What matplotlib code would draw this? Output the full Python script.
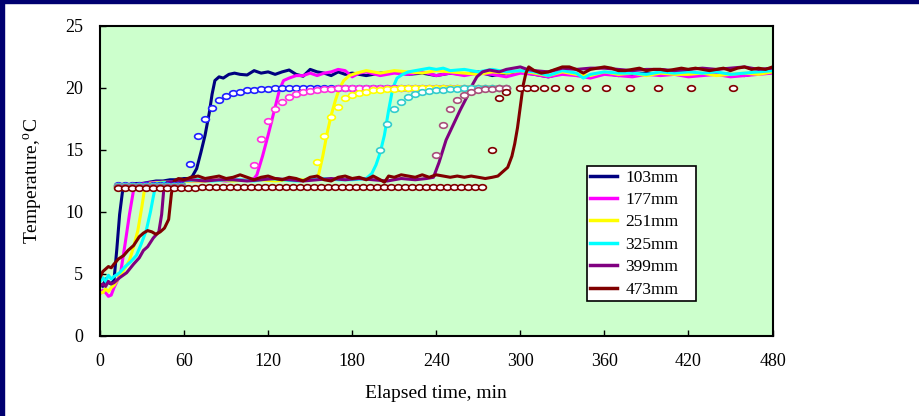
import matplotlib
matplotlib.use("Agg")
import matplotlib.pyplot as plt
from matplotlib.patches import Rectangle
from matplotlib.path import Path

plt.rcParams['font.family'] = ['Liberation Serif', 'DejaVu Serif']
plt.rcParams['mathtext.fontset'] = 'custom'
plt.rcParams['mathtext.rm'] = 'Liberation Serif'

# measured temperatures (lines)
navy_t = [0, 2, 4, 6, 8, 10, 12, 14, 16, 18, 22, 26, 30, 35, 40, 45, 50, 55, 60, 64,
          66, 69, 72, 75, 78, 80, 82, 85, 88, 92, 96, 100, 105, 110, 115, 120, 125, 130, 135, 140,
          145, 150, 155, 160, 165, 170, 175, 180, 190, 200, 210, 220, 230, 240, 250, 260, 270, 280, 290, 300,
          310, 320, 330, 340, 350, 360, 370, 380, 390, 400, 410, 420, 430, 440, 450, 460, 470, 480]
navy_y = [4.2, 4.0, 4.6, 4.3, 4.2, 4.5, 7.0, 9.8, 11.6, 12.0, 12.2, 12.3, 12.3, 12.4, 12.5, 12.5, 12.6, 12.6, 12.7, 12.7,
          12.9, 13.5, 14.8, 16.2, 18.0, 19.5, 20.6, 20.9, 20.8, 21.1, 21.2, 21.1, 21.05, 21.4, 21.2, 21.3, 21.1, 21.3, 21.45, 21.1,
          20.95, 21.5, 21.3, 21.2, 21.0, 21.3, 21.1, 21.2, 21.0, 21.2, 21.3, 21.1, 21.2, 21.0, 21.2, 21.1, 21.3, 21.0, 21.2, 21.3,
          21.1, 20.9, 21.2, 21.1, 20.9, 21.2, 21.0, 21.1, 21.2, 21.1, 21.2, 21.0, 21.1, 21.2, 21.1, 21.0, 21.2, 21.3]

mag_t = [0, 2, 4, 6, 8, 10, 13, 15, 18, 21, 24, 27, 32, 40, 50, 60, 70, 80, 90, 100,
         108, 110, 112, 116, 120, 124, 128, 131, 135, 140, 145, 150, 155, 160, 165, 170, 175, 180, 185, 190,
         200, 210, 220, 230, 240, 250, 260, 270, 280, 290, 300, 310, 320, 330, 340, 350, 360, 370, 380, 390,
         400, 410, 420, 430, 440, 450, 460, 470, 480]
mag_y = [3.4, 3.7, 3.5, 3.2, 3.3, 3.9, 4.6, 5.3, 7.5, 9.8, 11.8, 12.2, 12.3, 12.4, 12.4, 12.5, 12.5, 12.6, 12.5, 12.6,
         12.6, 12.7, 13.0, 14.5, 16.2, 18.0, 19.8, 20.6, 20.8, 21.0, 21.0, 21.2, 21.0, 21.2, 21.3, 21.5, 21.4, 20.9, 21.2, 21.3,
         21.0, 21.2, 21.1, 21.3, 21.0, 21.2, 21.0, 21.2, 21.1, 20.9, 21.2, 21.1, 20.9, 21.1, 21.0, 20.8, 21.1, 21.0, 20.9, 21.1,
         21.0, 21.1, 20.9, 21.0, 21.1, 20.9, 21.0, 21.1, 21.2]

yel_t = [0, 2, 4, 6, 8, 10, 14, 18, 21, 24, 27, 30, 32, 35, 45, 55, 65, 75, 85, 95,
         105, 115, 125, 135, 145, 153, 156, 159, 162, 165, 168, 171, 174, 178, 183, 190, 195, 200,
         210, 220, 230, 240, 250, 260, 270, 280, 290, 300, 310, 320, 330, 340, 350, 360, 370, 380,
         390, 400, 410, 420, 430, 440, 450, 460, 470, 480]
yel_y = [3.5, 3.5, 3.8, 3.6, 3.9, 4.1, 4.8, 5.5, 6.1, 7.2, 8.5, 10.5, 12.0, 12.3, 12.4, 12.4, 12.5, 12.5, 12.6, 12.5,
         12.6, 12.6, 12.5, 12.6, 12.6, 12.7, 13.0, 14.5, 16.3, 17.8, 19.0, 20.0, 20.6, 21.0, 21.2, 21.4, 21.3, 21.2,
         21.4, 21.3, 21.2, 21.4, 21.3, 21.2, 21.1, 21.3, 21.2, 21.4, 21.2, 21.0, 21.3, 21.1, 21.0, 21.3, 21.1, 21.2,
         21.0, 21.2, 21.1, 21.1, 21.2, 21.0, 21.1, 21.2, 21.1, 21.3]

cyn_t = [0, 2, 4, 6, 8, 10, 14, 18, 22, 26, 29, 33, 36, 38, 40, 50, 60, 70, 80, 90,
         100, 110, 120, 130, 140, 150, 160, 170, 180, 190, 194, 197, 200, 203, 206, 209, 212, 216, 220, 225,
         230, 235, 240, 245, 250, 260, 270, 280, 290, 300, 310, 320, 330, 340, 345, 350, 360, 370, 380, 390,
         400, 410, 420, 430, 440, 450, 460, 470, 480]
cyn_y = [4.4, 4.7, 4.4, 4.9, 4.6, 4.8, 5.1, 5.6, 6.0, 6.5, 7.3, 8.5, 10.0, 11.2, 12.3, 12.4, 12.5, 12.6, 12.5, 12.6,
         12.6, 12.5, 12.7, 12.6, 12.5, 12.6, 12.7, 12.6, 12.6, 12.7, 13.1, 13.8, 14.8, 16.2, 18.2, 20.0, 20.8, 21.1, 21.3, 21.4,
         21.5, 21.6, 21.5, 21.6, 21.4, 21.5, 21.3, 21.5, 21.3, 21.4, 21.3, 21.0, 21.4, 21.2, 20.8, 21.1, 21.3, 21.2, 21.2, 21.1,
         21.3, 21.2, 21.3, 21.2, 21.3, 21.1, 21.2, 21.3, 21.4]

pur_t = [0, 2, 4, 6, 8, 10, 14, 19, 24, 28, 31, 34, 38, 42, 44, 45.5, 48, 55, 65, 75,
         85, 95, 105, 115, 125, 135, 145, 155, 165, 175, 185, 195, 205, 215, 225, 233, 238, 242, 247, 252,
         257, 262, 266, 269, 273, 278, 285, 290, 295, 300, 305, 310, 320, 330, 340, 350, 360, 370, 380, 390,
         400, 410, 420, 430, 440, 450, 460, 470, 480]
pur_y = [4.0, 4.2, 4.0, 4.4, 4.2, 4.3, 4.7, 5.1, 5.8, 6.3, 6.9, 7.2, 7.9, 8.4, 9.8, 11.8, 12.4, 12.5, 12.6, 12.5,
         12.6, 12.6, 12.5, 12.6, 12.7, 12.6, 12.5, 12.6, 12.7, 12.6, 12.7, 12.6, 12.5, 12.7, 12.6, 12.7, 12.8, 14.0, 15.8, 17.0,
         18.2, 19.3, 20.3, 20.9, 21.3, 21.45, 21.3, 21.5, 21.6, 21.7, 21.5, 21.4, 21.3, 21.6, 21.5, 21.6, 21.6, 21.5, 21.4, 21.5,
         21.5, 21.4, 21.5, 21.6, 21.5, 21.6, 21.7, 21.5, 21.6]

mar_t = [0, 2, 4, 6, 8, 10, 13, 17, 20, 24, 28, 31, 34, 37, 40, 43, 46, 49, 51, 53,
         56, 60, 65, 70, 75, 80, 85, 90, 95, 100, 105, 110, 115, 120, 125, 130, 135, 140, 145, 150,
         155, 160, 165, 170, 175, 180, 185, 190, 195, 200, 203, 206, 210, 215, 220, 225, 230, 235, 240, 245,
         250, 255, 260, 265, 270, 275, 280, 284, 288, 291, 294, 296, 298, 300, 302, 304, 306,
         310, 315, 320, 325, 330, 335, 340, 345, 350, 355, 360, 365, 370, 375, 380, 385, 390, 395, 400, 405,
         410, 415, 420, 425, 430, 435, 440, 445, 450, 455, 460, 465, 470, 475, 480]
mar_y = [4.7, 5.2, 5.4, 5.6, 5.5, 5.8, 6.2, 6.5, 6.9, 7.3, 8.0, 8.3, 8.5, 8.4, 8.2, 8.4, 8.7, 9.4, 11.5, 12.5,
         12.7, 12.6, 12.8, 12.9, 12.7, 12.8, 12.9, 12.7, 12.8, 13.0, 12.8, 12.6, 12.8, 12.9, 12.7, 12.6, 12.8, 12.7, 12.5, 12.8,
         12.9, 12.6, 12.5, 12.8, 12.9, 12.7, 12.8, 12.6, 12.9, 12.6, 12.4, 12.9, 12.8, 13.0, 12.9, 12.8, 13.0, 12.8, 13.0, 12.9,
         12.8, 12.9, 12.8, 12.9, 12.8, 12.7, 12.8, 12.9, 13.3, 13.6, 14.5, 15.5, 16.8, 18.5, 20.2, 21.2, 21.7,
         21.4, 21.2, 21.3, 21.5, 21.7, 21.7, 21.5, 21.2, 21.5, 21.6, 21.7, 21.6, 21.4, 21.4, 21.5, 21.6, 21.4, 21.5, 21.5, 21.4,
         21.5, 21.6, 21.5, 21.6, 21.5, 21.4, 21.5, 21.6, 21.4, 21.6, 21.7, 21.5, 21.6, 21.5, 21.7]

# calculated temperatures (circles)
bc_t = [13, 18, 23, 28, 33, 38, 43, 48, 53, 58, 64, 70, 75, 80, 85, 90, 95, 100, 105, 110,
        115, 120, 125, 130, 135, 140, 145, 150, 155, 160, 165, 170, 175, 180, 185, 190, 195, 200, 205, 210,
        215, 220, 225, 230, 235, 240, 245, 250, 255, 260, 265, 270, 275, 280, 285, 290]
bc_y = [12.15, 12.15, 12.15, 12.15, 12.15, 12.15, 12.15, 12.15, 12.15, 12.15, 13.9, 16.1, 17.5, 18.4, 19.0, 19.35, 19.6, 19.7, 19.8, 19.85,
        19.9, 19.95, 20.0, 20.0, 20.0, 20.0, 20.0, 20.0, 20.0, 20.0, 20.0, 20.0, 20.0, 20.0, 20.0, 20.0, 20.0, 20.0, 20.0, 20.0,
        20.0, 20.0, 20.0, 20.0, 20.0, 20.0, 20.0, 20.0, 20.0, 20.0, 20.0, 20.0, 20.0, 20.0, 20.0, 20.0]

mc_t = [13, 18, 23, 28, 33, 38, 43, 48, 53, 58, 110, 115, 120, 125, 130, 135, 140, 145, 150, 155,
        160, 165, 170, 175, 180, 185, 190, 195, 200, 205, 210, 215, 220, 225, 230, 235, 240, 245, 250, 255,
        260, 265, 270, 275, 280, 285, 290]
mc_y = [12.1, 12.1, 12.1, 12.1, 12.1, 12.1, 12.1, 12.1, 12.1, 12.1, 13.8, 15.9, 17.3, 18.3, 18.9, 19.3, 19.5, 19.65, 19.75, 19.85,
        19.9, 19.95, 20.0, 20.0, 20.0, 20.0, 20.0, 20.0, 20.0, 20.0, 20.0, 20.0, 20.0, 20.0, 20.0, 20.0, 20.0, 20.0, 20.0, 20.0,
        20.0, 20.0, 20.0, 20.0, 20.0, 20.0, 20.0]

yc_t = [13, 18, 23, 28, 33, 38, 43, 48, 53, 58, 155, 160, 165, 170, 175, 180, 185, 190, 195, 200,
        205, 210, 215, 220, 225, 230, 235, 240, 245, 250, 255, 260, 265, 270, 275, 280, 285, 290]
yc_y = [12.1, 12.1, 12.1, 12.1, 12.1, 12.1, 12.1, 12.1, 12.1, 12.1, 14.0, 16.1, 17.7, 18.5, 19.2, 19.4, 19.6, 19.7, 19.8, 19.85,
        19.9, 19.95, 20.0, 20.0, 20.0, 20.0, 20.0, 20.0, 20.0, 20.0, 20.0, 20.0, 20.0, 20.0, 20.0, 20.0, 20.0, 20.0]

cc_t = [13, 18, 23, 28, 33, 38, 43, 48, 53, 58, 200, 205, 210, 215, 220, 225, 230, 235, 240, 245,
        250, 255, 260, 265, 270, 275, 280, 285, 290]
cc_y = [12.1, 12.1, 12.1, 12.1, 12.1, 12.1, 12.1, 12.1, 12.1, 12.1, 15.0, 17.1, 18.3, 18.9, 19.3, 19.5, 19.65, 19.75, 19.8, 19.85,
        19.9, 19.95, 20.0, 20.0, 20.0, 20.0, 20.0, 20.0, 20.0]

pc_t = [13, 18, 23, 28, 33, 38, 43, 48, 53, 58, 240, 245, 250, 255, 260, 265, 270, 275, 280, 285, 290]
pc_y = [12.05, 12.05, 12.05, 12.05, 12.05, 12.05, 12.05, 12.05, 12.05, 12.05, 14.6, 17.0, 18.3, 19.0, 19.4, 19.7, 19.8, 19.9, 19.95, 20.0, 20.0]

rc_t = [13, 18, 23, 28, 33, 38, 43, 48, 53, 58, 63, 68, 73, 78, 83, 88, 93, 98, 103, 108,
        113, 118, 123, 128, 133, 138, 143, 148, 153, 158, 163, 168, 173, 178, 183, 188, 193, 198, 203, 208,
        213, 218, 223, 228, 233, 238, 243, 248, 253, 258, 263, 268, 273, 280, 285, 290,
        300, 305, 310, 317, 325, 335, 347, 361, 378, 398, 422, 452]
rc_y = [11.92, 11.92, 11.92, 11.92, 11.92, 11.92, 11.92, 11.92, 11.92, 11.92, 11.95, 11.95, 12.05, 12.05, 12.05, 12.05, 12.05, 12.05, 12.05, 12.05,
        12.05, 12.05, 12.05, 12.05, 12.05, 12.05, 12.05, 12.05, 12.05, 12.05, 12.05, 12.05, 12.05, 12.05, 12.05, 12.05, 12.05, 12.05, 12.05, 12.05,
        12.05, 12.05, 12.05, 12.05, 12.05, 12.05, 12.05, 12.05, 12.05, 12.05, 12.05, 12.05, 12.05, 15.0, 19.2, 19.7,
        20.0, 20.0, 20.0, 20.0, 20.0, 20.0, 20.0, 20.0, 20.0, 20.0, 20.0, 20.0]

labels = ['103mm', '177mm', '251mm', '325mm', '399mm', '473mm']
line_colors = ['#000080', '#FF00FF', '#FFFF00', '#00FFFF', '#800080', '#800000']
circle_colors = ['#2020FF', '#FF33DD', '#FFFF00', '#33CCCC', '#A8507A', '#800000']

lines = [(navy_t, navy_y), (mag_t, mag_y), (yel_t, yel_y), (cyn_t, cyn_y), (pur_t, pur_y), (mar_t, mar_y)]
circles = [(bc_t, bc_y), (mc_t, mc_y), (yc_t, yc_y), (cc_t, cc_y), (pc_t, pc_y), (rc_t, rc_y)]

circ = Path.unit_circle()
ellipse = Path(circ.vertices * [1.0, 0.72], circ.codes)

fig = plt.figure(figsize=(9.19, 4.16), dpi=100)
fig.patch.set_facecolor('white')
fig.patches.append(Rectangle((0, 1 - 3 / 416), 1, 3 / 416, transform=fig.transFigure, color='#000070', zorder=0))
fig.patches.append(Rectangle((0, 0), 4 / 919, 1, transform=fig.transFigure, color='#000070', zorder=0))

ax = fig.add_axes([100 / 919, 1 - 336 / 416, 672.5 / 919, 310 / 416])
ax.set_facecolor('#CCFFCC')

handles = []
for (t, y), c, lab in zip(lines, line_colors, labels):
    h, = ax.plot(t, y, color=c, lw=2.2, label=lab, zorder=2)
    handles.append(h)

for (t, y), c in zip(circles, circle_colors):
    ax.plot(t, y, ls='none', marker=ellipse, ms=5.6, mfc='white', mec=c, mew=1.2, zorder=3)

ax.set_xlim(0, 480)
ax.set_ylim(0, 25)
ax.set_xticks([0, 60, 120, 180, 240, 300, 360, 420, 480])
ax.set_yticks([0, 5, 10, 15, 20, 25])
ax.tick_params(direction='in', length=4, width=1, labelsize=13, pad=12, top=False, right=False)
for s in ax.spines.values():
    s.set_linewidth(1.5)
    s.set_color('black')

ax.set_xlabel('Elapsed time, min', fontsize=14, va='center')
ax.xaxis.set_label_coords(0.5, (336 - 393) / 310)
ax.set_ylabel('Temperature,$^{\\mathrm{o}}$C', fontsize=14, va='center')
ax.yaxis.set_label_coords((33 - 100) / 672.5, 0.5)

leg = ax.legend(handles=handles, loc='upper left', mode='expand',
                bbox_to_anchor=(587 / 919, 1 - 166 / 416, 109 / 919, 0.0001),
                bbox_transform=fig.transFigure, borderaxespad=0,
                fontsize=12.5, handlelength=1.5, handletextpad=0.5,
                labelspacing=0.36, borderpad=0.2, fancybox=False,
                framealpha=1, edgecolor='black')
leg.get_frame().set_linewidth(1.2)
for h in leg.get_lines():
    h.set_linewidth(2.5)

fig.savefig('out.png', dpi=100)
